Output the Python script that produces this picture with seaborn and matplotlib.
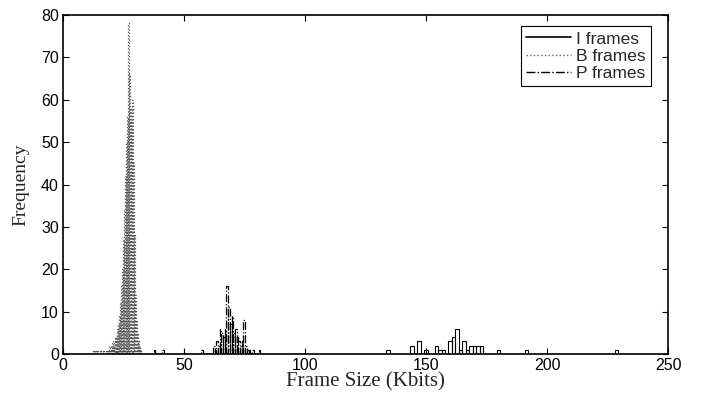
import numpy as np
import matplotlib
matplotlib.use("Agg")
import matplotlib.pyplot as plt
from matplotlib.lines import Line2D
import pandas as pd
import seaborn as sns

# histogram bins (bin centre in Kbits, frame count)
i_centres = [134.26, 144.27, 147.13, 149.99, 154.28, 155.71, 157.14, 160.0, 161.43,
             162.86, 164.29, 165.72, 167.15, 168.58, 170.01, 171.44, 172.87,
             180.02, 191.46, 228.64]
i_counts = [1, 2, 3, 1, 2, 1, 1, 3, 4, 6, 1, 3, 1, 2, 2, 2, 2, 1, 1, 1]
i_width = 1.43

b_centres = [12.6, 13.0, 13.4, 13.8, 14.2, 14.6, 15.0, 15.4, 15.8, 16.2, 16.6, 17.0,
             17.4, 17.8, 18.2, 18.6, 19.0, 19.4, 19.8, 20.2, 20.6, 21.0, 21.4, 21.8,
             22.2, 22.6, 23.0, 23.4, 23.8, 24.2, 24.6, 25.0, 25.4, 25.8, 26.2, 26.6,
             27.0, 27.4, 27.8, 28.2, 28.6, 29.0, 29.4, 29.8, 30.2, 30.6, 31.0, 31.4,
             31.8, 32.2]
b_counts = [1, 0, 1, 0, 1, 0, 0, 1, 0, 0, 1, 0,
            0, 1, 0, 1, 1, 2, 1, 2, 3, 2, 3, 4,
            4, 6, 7, 9, 12, 16, 20, 27, 34, 42, 50, 56,
            78, 66, 58, 55, 60, 45, 28, 14, 8, 5, 3, 2,
            1, 1]
b_width = 0.4

p_centres = [37.8, 41.3, 57.4, 62.3, 63.0, 63.7, 64.4, 65.1, 65.8, 66.5, 67.2, 67.9,
             68.6, 69.3, 70.0, 70.7, 71.4, 72.1, 72.8, 73.5, 74.2, 74.9, 75.6, 76.3,
             77.0, 78.4, 81.2]
p_counts = [1, 1, 1, 2, 1, 3, 2, 6, 5, 4, 6, 16,
            11, 7, 9, 5, 6, 4, 3, 2, 3, 8, 2, 1,
            1, 1, 1]
p_width = 0.7

series_names = ["I frames", "B frames", "P frames"]

sns.set_style("ticks")
plt.rcParams["font.family"] = ["Liberation Sans", "DejaVu Sans"]

fig = plt.figure(figsize=(7.09, 3.94), dpi=100)
ax = fig.add_axes([0.0889, 0.1015, 0.8533, 0.8604])


def edges_for(centres, w):
    lo = min(centres) - w / 2
    n = int(round((max(centres) - min(centres)) / w)) + 1
    return [float(e) for e in lo + w * np.arange(n + 1)]


styles = [
    (i_centres, i_counts, i_width, "black", "-", 0.8),
    (b_centres, b_counts, b_width, "#555555", ":", 0.9),
    (p_centres, p_counts, p_width, "black", "-.", 0.9),
]
for c, n, w, col, ls, lw in styles:
    df = pd.DataFrame({"size": c, "count": n})
    sns.histplot(data=df, x="size", weights="count", bins=edges_for(c, w), fill=False,
                 element="bars", color=col, linestyle=ls, linewidth=lw, ax=ax)

ax.set_xlim(0, 250)
ax.set_ylim(0, 80)
ax.set_xticks(np.arange(0, 251, 50))
ax.set_yticks(np.arange(0, 81, 10))
ax.tick_params(direction="in", top=True, right=True, length=4, width=0.8,
               labelsize=11.5, colors="black", pad=3)
for s in ax.spines.values():
    s.set_visible(True)
    s.set_linewidth(1.2)
    s.set_color("black")

ax.set_xlabel("Frame Size (Kbits)", family=["Liberation Serif"], fontsize=15, labelpad=-1)
ax.set_ylabel("Frequency", family=["Liberation Serif"], fontsize=14, labelpad=8)

handles = [Line2D([], [], color="black", ls="-", lw=1.2),
           Line2D([], [], color="#666666", ls=":", lw=1.0),
           Line2D([], [], color="black", ls="-.", lw=1.0)]
leg = ax.legend(handles, series_names, loc="upper right", bbox_to_anchor=(0.972, 0.967),
                borderaxespad=0, fancybox=False, framealpha=1, edgecolor="black",
                fontsize=12.5, handlelength=2.6, handletextpad=0.3, labelspacing=0.12,
                borderpad=0.3)
leg.get_frame().set_linewidth(0.8)

fig.savefig("out.png", dpi=100)
